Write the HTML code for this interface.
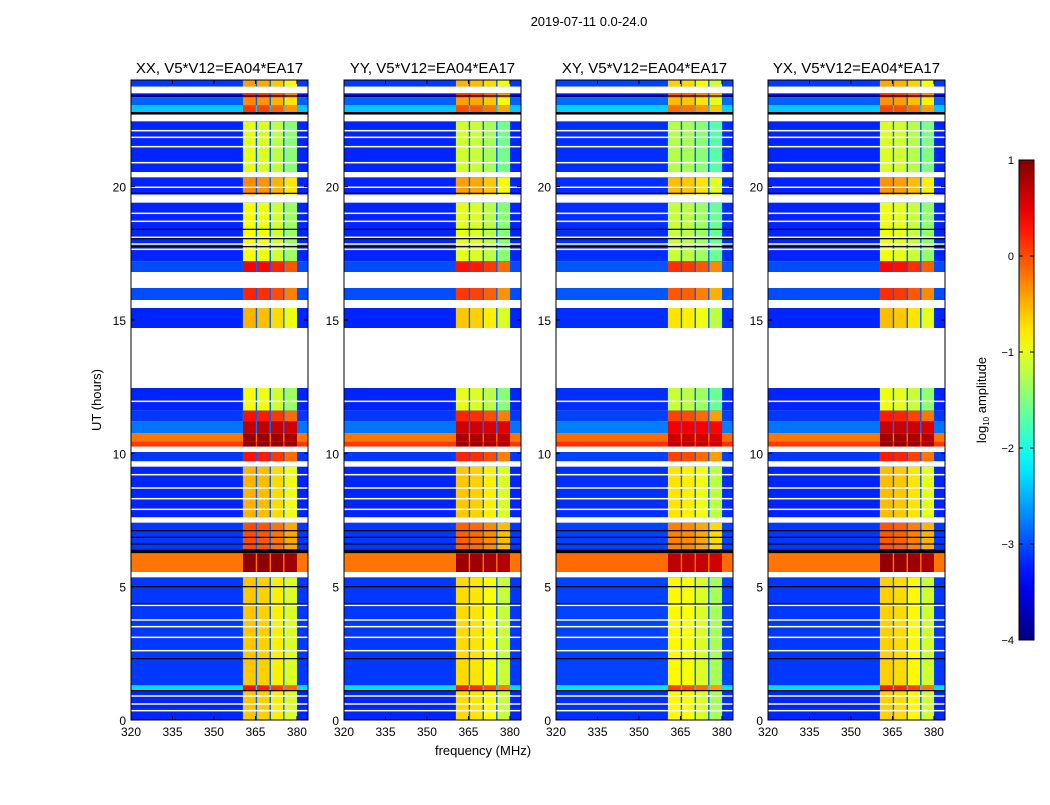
<!DOCTYPE html>
<html><head><meta charset="utf-8"><style>
body{margin:0;background:#fff;width:1050px;height:800px;overflow:hidden;font-family:"Liberation Sans",sans-serif}
</style></head><body>
<svg id="chart" width="1050" height="800" xmlns="http://www.w3.org/2000/svg" font-family="Liberation Sans, sans-serif">
<text x="589" y="26" font-size="13" text-anchor="middle">2019-07-11 0.0-24.0</text>
<text x="483" y="755" font-size="13" text-anchor="middle">frequency (MHz)</text>
<text x="101" y="400" font-size="13" text-anchor="middle" transform="rotate(-90 101 400)">UT (hours)</text>
</svg>
<script>
// ---- data ----
const panelTitles = ["XX, V5*V12=EA04*EA17","YY, V5*V12=EA04*EA17","XY, V5*V12=EA04*EA17","YX, V5*V12=EA04*EA17"];
const xTicks = [320,335,350,365,380];
const yTicks = [0,5,10,15,20];
const cbTicks = [1,0,-1,-2,-3,-4];
// time segments [tStart, tEnd] (hours)
const segStart = [23.75,23.5,23.35,23.05,22.8,22.7,22.45,20.55,20.35,20.0,19.95,19.7,19.4,17.2,16.8,16.2,15.75,15.45,14.7,12.45,11.6,11.2,10.75,10.45,10.25,10.05,9.7,9.5,7.6,7.4,6.4,6.25,5.55,5.35,1.3,1.1,0];
const segEnd   = [24.0,23.75,23.5,23.35,23.05,22.8,22.7,22.45,20.55,20.35,20.0,19.95,19.7,19.4,17.2,16.8,16.2,15.75,15.45,14.7,12.45,11.6,11.2,10.75,10.45,10.25,10.05,9.7,9.5,7.6,7.4,6.4,6.25,5.55,5.35,1.3,1.1];
// segment type: 0 data, 1 gap (white), 2 black
const segType  = [0,1,0,0,0,2,1,0,1,0,1,0,1,0,0,1,0,1,0,1,0,0,0,0,0,1,0,1,0,1,0,2,0,1,0,0,0];
// background log10 amplitude per segment
const segBg    = [-3.1,0,-3.3,-2.9,-2.4,0,0,-3.2,0,-3.2,0,-3.2,0,-3.2,-3.0,0,-3.0,0,-3.2,0,-3.2,-3.1,-2.8,-0.2,0.1,0,-3.1,0,-3.2,0,-3.1,0,-0.2,0,-3.1,-2.3,-3.2];
// RFI band log10 amplitude per segment
const segBand  = [-0.4,0,0.2,-0.3,0.1,0,0,-1.0,0,-0.3,0,-0.3,0,-0.9,0.4,0,0.2,0,-0.5,0,-0.9,0.3,0.7,0.9,0.95,0,0.3,0,-0.5,0,0.0,0,0.95,0,-0.6,0.3,-0.6];
// per-panel offsets
const panelBandOffset = [0,-0.1,-0.25,-0.05];
const panelBgOffset = [0,0,0.05,0];
// band blocks (MHz)
const blockStart = [360.5,365.6,370.6,375.5];
const blockEnd   = [365.1,370.1,375.0,380.0];
const blockOffset = [0,-0.05,-0.2,-0.45];
// thin white / black lines (hours)
const whiteLines = [22.1,21.85,21.5,20.9,19.0,18.7,18.1,17.85,17.65,11.95,9.2,8.7,8.3,7.9,4.3,3.75,3.5,3.1,2.6,0.9,0.6,0.35];
const blackLines = [23.4,19.75,18.4,18.05,17.75,7.1,6.85,6.6,5.0,4.35,2.3,1.1];

// ---- scales ----
const panelX = [131,344,556,768];
const PW = 177, PT = 80, PB = 720;
const fMin = 320, fMax = 384, tMin = 0, tMax = 24;
function xs(p,f){return panelX[p] + (f-fMin)/(fMax-fMin)*PW;}
function ys(t){return PB - (t-tMin)/(tMax-tMin)*(PB-PT);}
function jet(v){
  let x=(v+4)/5; x=Math.max(0,Math.min(1,x));
  const c=t=>Math.round(255*Math.max(0,Math.min(1,t)));
  const r=c(1.5-Math.abs(4*x-3)), g=c(1.5-Math.abs(4*x-2)), b=c(1.5-Math.abs(4*x-1));
  return `rgb(${r},${g},${b})`;
}
const NS="http://www.w3.org/2000/svg";
const svg=document.getElementById('chart');
function el(tag,attrs,parent){const e=document.createElementNS(NS,tag);for(const k in attrs)e.setAttribute(k,attrs[k]);(parent||svg).appendChild(e);return e;}

for(let p=0;p<4;p++){
  const g=el('g',{});
  
  
  for(let i=0;i<segStart.length;i++){
    const y0=ys(segEnd[i]), y1=ys(segStart[i]);
    const typ=segType[i];
    let fill = typ===1?'#fff':typ===2?'#000':jet(segBg[i]+panelBgOffset[p]);
    const r=el('rect',{x:xs(p,fMin),y:y0,width:PW,height:y1-y0,fill:fill},g);
    
    
    if(typ!==0) continue;
    const sep=el('rect',{x:xs(p,blockStart[0])-0.5,y:y0,width:xs(p,blockEnd[3])-xs(p,blockStart[0])+1,height:y1-y0,fill:jet(Math.max(segBg[i],-2.9))},g);
    
    
    for(let b=0;b<blockStart.length;b++){
      const v=segBand[i]+panelBandOffset[p]+(segBand[i]>0.5?blockOffset[b]*0.2:blockOffset[b]);
      const br=el('rect',{x:xs(p,blockStart[b]),y:y0,width:xs(p,blockEnd[b])-xs(p,blockStart[b]),height:y1-y0,fill:jet(v)},g);
      
      
    }
  }
  for(const t of whiteLines){
    const l=el('rect',{x:xs(p,fMin),y:ys(t)-0.75,width:PW,height:1.5,fill:'#fff'},g);
    
    
  }
  for(const t of blackLines){
    const l=el('rect',{x:xs(p,fMin),y:ys(t)-0.6,width:PW,height:1.2,fill:'#000'},g);
    
    
  }
  const fr=el('rect',{x:panelX[p],y:PT,width:PW,height:PB-PT,fill:'none',stroke:'#000','stroke-width':1});
  
  
  const tt=el('text',{x:panelX[p]+PW/2,y:73,'font-size':15,'text-anchor':'middle'});
  tt.textContent=panelTitles[p];
  
  
  for(const f of xTicks){
    const x=xs(p,f);
    el('line',{x1:x,x2:x,y1:PB,y2:PB-4,stroke:'#000'});
    el('line',{x1:x,x2:x,y1:PT,y2:PT+4,stroke:'#000'});
    const tl=el('text',{x:x,y:PB+16,'font-size':12,'text-anchor':'middle'});
    tl.textContent=f;
    
    
  }
  for(const t of yTicks){
    const y=ys(t);
    el('line',{x1:panelX[p],x2:panelX[p]+4,y1:y,y2:y,stroke:'#000'});
    el('line',{x1:panelX[p]+PW,x2:panelX[p]+PW-4,y1:y,y2:y,stroke:'#000'});
    const tl=el('text',{x:panelX[p]-5,y:y+5,'font-size':12,'text-anchor':'end'});
    tl.textContent=t;
    
    
  }
}
// colorbar
const CBX=1019, CBW=15, CBT=160, CBB=640;
const defs=el('defs',{});
const gr=el('linearGradient',{id:'jetg',x1:0,y1:1,x2:0,y2:0},defs);
for(let i=0;i<=20;i++){el('stop',{offset:i/20,'stop-color':jet(-4+5*i/20)},gr);}
const cb=el('rect',{x:CBX,y:CBT,width:CBW,height:CBB-CBT,fill:'url(#jetg)',stroke:'#000','stroke-width':1});


for(const v of cbTicks){
  const y=CBB-(v+4)/5*(CBB-CBT);
  el('line',{x1:CBX,x2:CBX+4,y1:y,y2:y,stroke:'#000'});
  el('line',{x1:CBX+CBW,x2:CBX+CBW-4,y1:y,y2:y,stroke:'#000'});
  const tl=el('text',{x:CBX-5,y:y+4,'font-size':11,'text-anchor':'end'});
  tl.textContent=v<0?'\u2212'+(-v):String(v);
  
  
}
const ct=el('text',{x:986,y:400,'font-size':13,'text-anchor':'middle',transform:'rotate(-90 986 400)'});
ct.innerHTML='log<tspan font-size="8" dy="3">10</tspan><tspan dy="-3"> amplitude</tspan>';


</script>
</body></html>
